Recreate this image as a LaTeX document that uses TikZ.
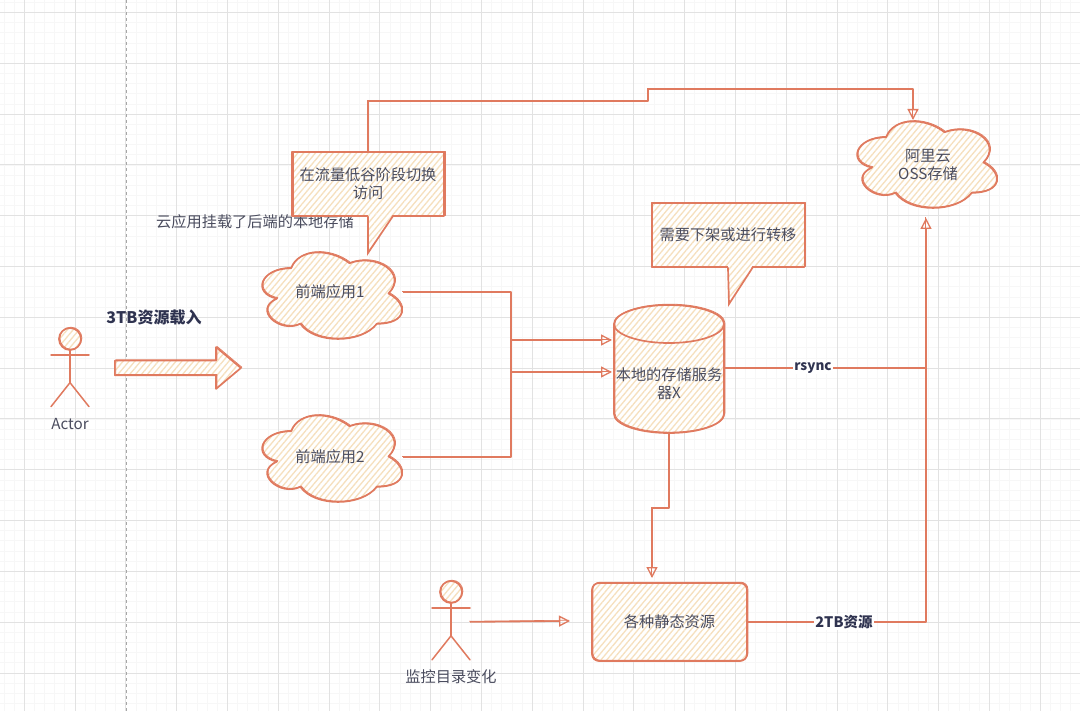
\documentclass[tikz,border=0pt]{standalone}
\usepackage{fontspec}
\setmainfont{Noto Sans CJK SC}
\usetikzlibrary{arrows.meta,positioning,shapes.geometric,shapes.arrows,patterns.meta}
\definecolor{brick}{RGB}{224,122,95}
\definecolor{sand}{RGB}{246,224,190}
\definecolor{slate}{RGB}{74,76,94}
\definecolor{inkblue}{RGB}{47,51,80}
\definecolor{gridmajor}{RGB}{226,226,226}
\definecolor{gridminor}{RGB}{247,247,247}
\tikzset{
  hatch/.style={preaction={fill=white},pattern={Lines[angle=50,distance=4.5pt,line width=1.3pt]},pattern color=sand},
  sketchy/.style={draw=brick,line width=1.7pt,line join=round,hatch,
    postaction={draw=brick,line width=.8pt,transform canvas={shift={(.9pt,.8pt)}}}},
  link/.style={draw=brick,line width=1.5pt,line join=round,-{Triangle[open,length=11pt,width=11pt,line width=1.3pt]},
    preaction={draw=brick,line width=.6pt,-,transform canvas={shift={(-.8pt,.8pt)}}}},
  plainlink/.style={link,-},
  boxtext/.style={text=slate,font=\fontsize{15.2}{18}\selectfont,align=center,inner sep=0pt},
  linklabel/.style={text=inkblue,font=\fontsize{13.5}{15}\selectfont\bfseries,fill=white,inner sep=1pt},
  notebox/.style={sketchy,boxtext,rectangle,minimum width=152,minimum height=64},
  limb/.style={draw=brick,line width=1.5pt,line cap=round}
}
\newcommand{\cloudpath}[2]{
  \draw[sketchy,shift={(#1pt,-#2pt)},x=156pt,y=-101pt] (.25,.25)
    .. controls (.05,.25) and (0,.5) .. (.16,.55)
    .. controls (0,.66) and (.18,.9) .. (.31,.8)
    .. controls (.4,1) and (.7,1) .. (.8,.8)
    .. controls (1,.8) and (1,.6) .. (.875,.5)
    .. controls (1,.3) and (.8,.1) .. (.625,.2)
    .. controls (.5,.05) and (.3,.05) .. (.25,.25) -- cycle;
}
\begin{document}
\begin{tikzpicture}[x=1pt,y=-1pt]
  \useasboundingbox (0,0) rectangle (1080,711);
  \fill[white] (0,0) rectangle (1080,711);
  \foreach \i in {-2,...,105} {
    \draw[gridminor,line width=.7pt] ({24.2+10.16*\i},0) -- ({24.2+10.16*\i},711);
  }
  \foreach \i in {-1,...,70} {
    \draw[gridminor,line width=.7pt] (0,{12.5+10.16*\i}) -- (1080,{12.5+10.16*\i});
  }
  \foreach \i in {0,...,21} {
    \draw[gridmajor,line width=.8pt] ({24.2+50.8*\i},0) -- ({24.2+50.8*\i},711);
  }
  \foreach \i in {0,...,13} {
    \draw[gridmajor,line width=.8pt] (0,{12.5+50.8*\i}) -- (1080,{12.5+50.8*\i});
  }
  \draw[gray!70,dashed,line width=.8pt] (126.5,0) -- (126.5,711);

  \foreach \nm/\px/\py/\lbl in {actorA/70/339/Actor,actorB/451/592/监控目录变化} {
    \node[circle,sketchy,minimum size=22,inner sep=0pt] (\nm) at (\px,\py) {};
    \draw[limb] (\nm.south) -- ++(0,32) coordinate (\nm hip);
    \draw[limb] (\px-19,\py+16) -- (\px+19,\py+16);
    \draw[limb] (\nm hip) -- ++(-19,24);
    \draw[limb] (\nm hip) -- ++(19,24);
    \node[boxtext] (\nm lbl) at (\px,\py+85) {\lbl};
  }

  \node[single arrow,sketchy,minimum height=126,inner xsep=0pt,inner ysep=6.5pt,
    single arrow head extend=13.5pt,single arrow tip angle=80,anchor=center] (loadArrow) at (173.5,368) {};
  \node[text=inkblue,font=\fontsize{16}{18}\selectfont\bfseries,inner sep=0pt] (loadLbl) at (154,317) {3TB资源载入};
  \node[boxtext,anchor=west] (mountLbl) at (156,222) {云应用挂载了后端的本地存储};

  \cloudpath{252}{243}
  \node[boxtext,minimum width=146] (front1) at (330,292) {前端应用1};
  \cloudpath{252}{406}
  \node[boxtext,minimum width=146] (front2) at (330,457) {前端应用2};
  \cloudpath{847}{112}
  \node[boxtext,minimum width=140,minimum height=80] (oss) at (928,165) {阿里云\\OSS存储};

  \node[notebox] (switchNote) at (368,184) {在流量低谷阶段切换\\访问};
  \coordinate (switchTip) at (368,253);
  \coordinate (switchBase) at (393,216);
  \fill[hatch] ([yshift=2pt]switchNote.south) -- (switchTip) -- ([yshift=2pt]switchBase) -- cycle;
  \draw[limb,line width=1.7pt] (switchNote.south) -- (switchTip) -- (switchBase);

  \node[notebox,minimum width=153] (moveNote) at (728,235) {需要下架或进行转移};
  \coordinate (moveTip) at (729,304);
  \coordinate (moveBase) at (753,267);
  \fill[hatch] ([yshift=2pt]moveNote.south) -- (moveTip) -- ([yshift=2pt]moveBase) -- cycle;
  \draw[limb,line width=1.7pt] (moveNote.south) -- (moveTip) -- (moveBase);

  \draw[sketchy] (614,324) arc[start angle=180,end angle=0,x radius=55pt,y radius=19pt]
    -- (724,414) arc[start angle=0,end angle=-180,x radius=55pt,y radius=19pt] -- cycle;
  \draw[limb,line width=1.7pt] (614,324) arc[start angle=180,end angle=360,x radius=55pt,y radius=19pt];
  \node[inner sep=0pt,minimum width=110,minimum height=128] (store) at (669,369) {};
  \node[boxtext] (storeLbl) at (669,384) {本地的存储服务\\器X};
  \node[sketchy,boxtext,rectangle,rounded corners=7pt,minimum width=155,minimum height=78] (static) at (669.5,622) {各种静态资源};

  \coordinate (busTop) at (511,292);
  \coordinate (busLow) at (511,457);
  \coordinate (storeInA) at (612,340);
  \coordinate (storeInB) at (612,372);
  \coordinate (riseA) at (648,101);
  \coordinate (riseB) at (648,89);
  \coordinate (ossTop) at (913,120);
  \coordinate (ossBus) at (926,368);
  \coordinate (ossLow) at (926,622);
  \coordinate (ossIn) at (926,218);
  \coordinate (kinkA) at (669,508);
  \coordinate (kinkB) at (652,508);
  \coordinate (staticIn) at (652,578);
  \coordinate (watchOut) at (470,622);
  \coordinate (watchIn) at (570,621);

  \path[link] (front1.east) -- (busTop) |- (storeInB);
  \path[link] (front2.east) -- (busLow) |- (storeInA);
  \path[link] (switchNote.north) |- (riseA) -- (riseB) -| (ossTop);
  \path[plainlink] (store.east |- ossBus) -- (ossBus);
  \path[link] (static.east) -- (ossLow) -- (ossIn);
  \path[link] (store.south) -- (kinkA) -- (kinkB) -- (staticIn);
  \path[link] (watchOut) -- (watchIn);
  \node[linklabel] (rsyncLbl) at (813,368) {rsync};
  \node[linklabel,font=\fontsize{14.5}{16}\selectfont\bfseries] (staticLbl) at (844,622) {2TB资源};
\end{tikzpicture}
\end{document}
